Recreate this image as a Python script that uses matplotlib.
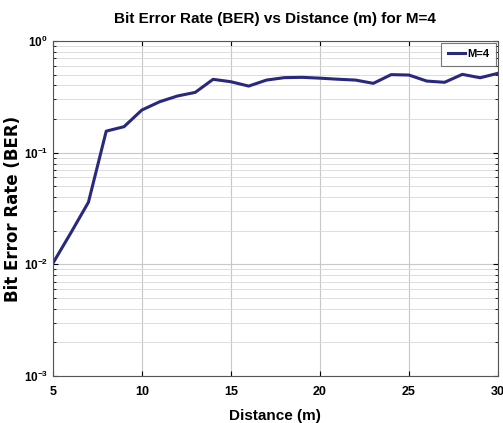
import matplotlib
matplotlib.use("Agg")
import matplotlib.pyplot as plt
from matplotlib.ticker import LogLocator, FixedLocator, NullFormatter

distance = list(range(5, 31))
ber = [0.0102, 0.019, 0.036, 0.156, 0.171, 0.241, 0.286, 0.322, 0.347, 0.454,
       0.432, 0.395, 0.447, 0.470, 0.473, 0.465, 0.455, 0.447, 0.418, 0.500,
       0.496, 0.438, 0.427, 0.503, 0.469, 0.514]
x_ticks = [5, 10, 15, 20, 25, 30]
series_label = "M=4"
title = "Bit Error Rate (BER) vs Distance (m) for M=4"
xlabel = "Distance (m)"
ylabel = "Bit Error Rate (BER)"

plt.rcParams['font.family'] = ['Liberation Sans', 'DejaVu Sans']
plt.rcParams['font.weight'] = 'bold'

fig = plt.figure(figsize=(5.03, 4.23), dpi=100)
ax = fig.add_axes([0.105, 0.111, 0.885, 0.792])

ax.semilogy(distance, ber, color='#28287e', linewidth=2.2, label=series_label)
ax.set_xlim(5, 30)
ax.set_ylim(1e-3, 1)
ax.xaxis.set_major_locator(FixedLocator(x_ticks))
ax.yaxis.set_major_locator(LogLocator(base=10, numticks=10))
ax.yaxis.set_minor_locator(LogLocator(base=10, subs=range(2, 10), numticks=100))
ax.yaxis.set_minor_formatter(NullFormatter())

ax.grid(True, which='major', color='#c8c8c8', linewidth=0.8)
ax.grid(True, which='minor', axis='y', color='#d8d8d8', linewidth=0.6)
ax.tick_params(which='both', direction='in', top=True, right=True, labelsize=8.5)
ax.tick_params(axis='x', pad=7, labelsize=9)
ax.tick_params(which='minor', length=2)
for lab in ax.get_xticklabels() + ax.get_yticklabels():
    lab.set_fontweight('bold')
for s in ax.spines.values():
    s.set_color('#555555')
    s.set_linewidth(0.8)

ax.set_title(title, fontsize=11, fontweight='bold', pad=13)
ax.set_xlabel(xlabel, fontsize=11, fontweight='bold', labelpad=8)
ax.set_ylabel(ylabel, fontsize=12, fontweight='bold', family='DejaVu Sans')
ax.yaxis.set_label_coords(-0.07, 0.5)

leg = ax.legend(loc='upper right', fontsize=8, frameon=True, fancybox=False,
                handlelength=1.6, borderpad=0.6, handletextpad=0.2,
                borderaxespad=0.15)
leg.get_frame().set_edgecolor('#555555')
leg.get_frame().set_linewidth(0.8)
for t in leg.get_texts():
    t.set_fontweight('bold')

fig.savefig("out.png", dpi=100)
